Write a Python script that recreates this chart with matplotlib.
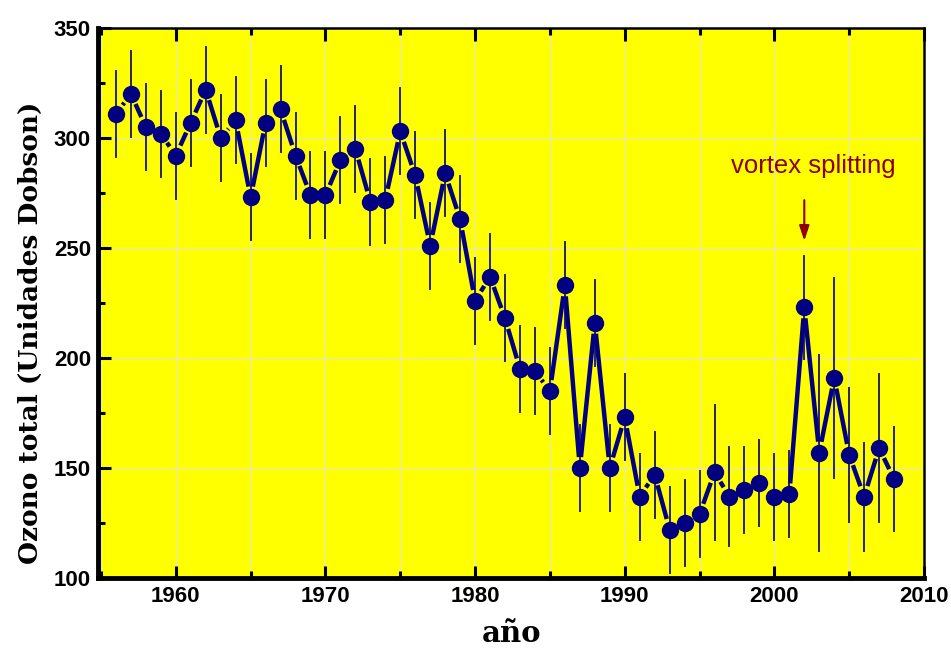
import matplotlib
matplotlib.use("Agg")
import matplotlib.pyplot as plt
import numpy as np
from matplotlib.ticker import MultipleLocator

years = list(range(1956, 2009))
ozone = [311, 320, 305, 302, 292, 307, 322, 300, 308, 273,
         307, 313, 292, 274, 274, 290, 295, 271, 272, 303,
         283, 251, 284, 263, 226, 237, 218, 195, 194, 185,
         233, 150, 216, 150, 173, 137, 147, 122, 125, 129,
         148, 137, 140, 143, 137, 138, 223, 157, 191, 156,
         137, 159, 145]
errors = [20, 20, 20, 20, 20, 20, 20, 20, 20, 20,
          20, 20, 20, 20, 20, 20, 20, 20, 20, 20,
          20, 20, 20, 20, 20, 20, 20, 20, 20, 20,
          20, 20, 20, 20, 20, 20, 20, 20, 20, 20,
          31, 23, 20, 20, 20, 20, 24, 45, 46, 31,
          25, 34, 24]
x_ticks = [1960, 1970, 1980, 1990, 2000, 2010]
y_ticks = [100, 150, 200, 250, 300, 350]
annot_text = "vortex splitting"
annot_year = 2002

navy = "#000080"
fig = plt.figure(figsize=(9.51, 6.55), dpi=100)
ax = fig.add_axes([98/951, 1-578/655, (924-98)/951, (578-28)/655])
ax.set_facecolor("#FFFF00")
ax.set_xlim(1954.8, 2010)
ax.set_ylim(100, 350)

ax.xaxis.set_major_locator(MultipleLocator(10))
ax.xaxis.set_minor_locator(MultipleLocator(5))
ax.yaxis.set_major_locator(MultipleLocator(50))
ax.yaxis.set_minor_locator(MultipleLocator(25))

ax.grid(True, which="both", axis="x", color="#E6E6D0", lw=0.8)
ax.grid(True, which="major", axis="y", color="#E6E6D0", lw=0.8)
ax.set_axisbelow(True)

# error bars
ax.errorbar(years, ozone, yerr=errors, fmt="none", ecolor=navy, elinewidth=1.2, capsize=0, zorder=2)

# line with gaps around symbols (Origin style)
fig.canvas.draw()
pts = ax.transData.transform(np.column_stack([years, ozone]))
gap = 11.0
inv = ax.transData.inverted()
for i in range(len(pts) - 1):
    p0, p1 = pts[i], pts[i + 1]
    d = p1 - p0
    L = np.hypot(*d)
    if L <= 2 * gap:
        continue
    u = d / L
    a = inv.transform(p0 + u * gap)
    b = inv.transform(p1 - u * gap)
    ax.plot([a[0], b[0]], [a[1], b[1]], color=navy, lw=3.2, solid_capstyle="butt", zorder=3)

ax.plot(years, ozone, "o", color=navy, ms=11.5, zorder=4)

for side in ["left", "bottom"]:
    ax.spines[side].set_linewidth(3.5)
for side in ["top", "right"]:
    ax.spines[side].set_linewidth(1.8)

ax.tick_params(axis="both", which="major", direction="in", length=9, width=2.2, top=True, right=False)
ax.tick_params(axis="both", which="minor", direction="in", length=5, width=2.2, top=True, right=False)
ax.tick_params(axis="x", which="both", labeltop=False)

ax.set_xticks(x_ticks)
ax.set_xticklabels([str(t) for t in x_ticks], fontsize=16, fontweight="bold",
                   family=["Liberation Sans", "DejaVu Sans"])
ax.set_yticks(y_ticks)
ax.set_yticklabels([str(t) for t in y_ticks], fontsize=16, fontweight="bold",
                   family=["Liberation Sans", "DejaVu Sans"])
ax.tick_params(axis="x", pad=6)
ax.tick_params(axis="y", pad=5)

ax.set_xlabel("año", fontsize=21, fontweight="bold", family="DejaVu Serif")
ax.xaxis.set_label_coords((511 - 98) / 826, (578 - 633) / 550)
ax.xaxis.label.set_va("center")
ax.set_ylabel("Ozono total (Unidades Dobson)", fontsize=19, fontweight="bold",
              family="DejaVu Serif")
ax.yaxis.set_label_coords((30 - 98) / 826, (578 - 333) / 550)
ax.yaxis.label.set_va("center")

ax.annotate("", xy=(annot_year, 252), xytext=(annot_year, 273),
            arrowprops=dict(arrowstyle="-|>,head_length=0.9,head_width=0.3", color="#8B0000", lw=1.5),
            zorder=5)
ax.text(annot_year + 0.6, 287.5, annot_text, color="#8B0000", fontsize=18.5,
        family=["Liberation Sans", "DejaVu Sans"], ha="center", va="center")

fig.savefig("out.png", dpi=100)
